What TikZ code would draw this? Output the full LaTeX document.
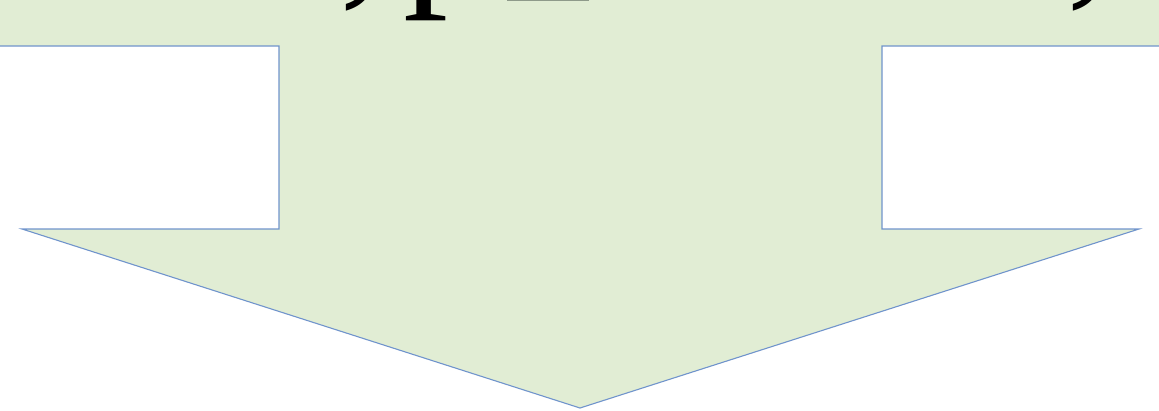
\documentclass[tikz,border=0pt]{standalone}
\usepackage{fontspec}
\setmainfont{Liberation Serif}
\definecolor{arrowfill}{HTML}{E1EDD4}
\definecolor{arrowline}{HTML}{7094CC}
\definecolor{barcol}{HTML}{8E9A8A}
\tikzset{
  bigtext/.style={inner sep=0pt, anchor=base, font=\fontsize{180}{200}\selectfont, text=black},
  outline/.style={draw=arrowline, line width=1.1pt, line join=miter}
}
\begin{document}
\begin{tikzpicture}[x=1pt,y=-1pt]
\useasboundingbox (0,0) rectangle (1159,410);
\clip (0,0) rectangle (1159,410);
% arrow with top band
\coordinate (tl) at (-5,46);
\coordinate (sl) at (279,46);
\coordinate (sbl) at (279,229);
\coordinate (hl) at (22,229);
\coordinate (tip) at (580,408);
\coordinate (hr) at (1139,229);
\coordinate (sbr) at (882,229);
\coordinate (sr) at (882,46);
\coordinate (tr) at (1164,46);
\fill[arrowfill] (-5,-5) -- (tl) -- (sl) -- (sbl) -- (hl) -- (tip) -- (hr) -- (sbr) -- (sr) -- (tr) -- (1164,-5) -- cycle;
\draw[outline] (tl) -- (sl) -- (sbl) -- (hl) -- (tip) -- (hr) -- (sbr) -- (sr) -- (tr);
% cut-off text above the frame
\node[bigtext] (c1) at (362,-17) {,};
\node[bigtext] (p1) at (448,-18) {p};
\node[bigtext] (c2) at (1089,-17) {,};
\coordinate (bar1) at (507,0.6);
\coordinate (bar2) at (589,0.6);
\draw[barcol, line width=1.6pt] (bar1) -- (bar2);
\end{tikzpicture}
\end{document}
